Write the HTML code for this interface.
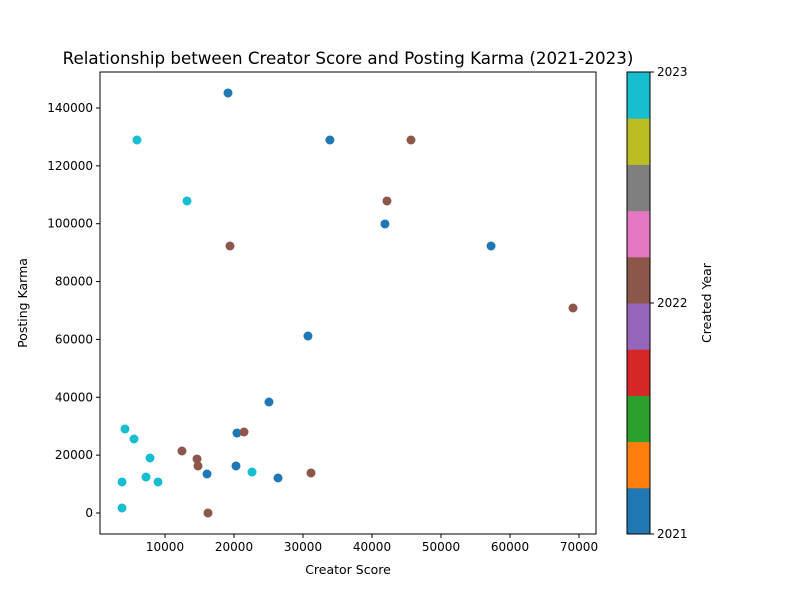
<!DOCTYPE html>
<html><head><meta charset="utf-8"><style>body{margin:0;background:#fff}svg{font-family:"DejaVu Sans","Liberation Sans",sans-serif}</style></head>
<body>
<svg id="c" width="800" height="600" xmlns="http://www.w3.org/2000/svg"></svg>
<script>
const xVals2021=[19130,33900,41880,57250,30720,25070,20430,20290,16090,26380];
const yVals2021=[145180,128930,99900,92290,61180,38370,27650,16250,13480,12100];
const xVals2022=[45650,42170,19420,69130,21450,12460,14640,14780,31160,16230];
const yVals2022=[128930,107850,92290,70860,28000,21430,18670,16250,13830,0];
const xVals2023=[5940,13190,4200,5510,7830,7250,8990,22610,3770,3770];
const yVals2023=[128930,107850,29040,25580,19010,12440,10720,14170,10720,1730];
const xTicks=[10000,20000,30000,40000,50000,60000,70000];
const yTicks=[0,20000,40000,60000,80000,100000,120000,140000];
const cbColors=['#1f77b4','#ff7f0e','#2ca02c','#d62728','#9467bd','#8c564b','#e377c2','#7f7f7f','#bcbd22','#17becf'];
const cbTicks=[2021,2022,2023];
const NS='http://www.w3.org/2000/svg';
const svg=document.getElementById('c');
const L=100,R=596,T=72,B=534;
const sx=v=>96+v*0.0069;
const sy=v=>513-v*0.002893;
function el(t,a,txt){const e=document.createElementNS(NS,t);for(const k in a)e.setAttribute(k,a[k]);if(txt!==undefined)e.textContent=txt;svg.appendChild(e);return e;}
let e;
e=el('text',{x:348,y:64,'text-anchor':'middle','font-size':16.7},'Relationship between Creator Score and Posting Karma (2021-2023)');


e=el('rect',{x:L,y:T,width:R-L,height:B-T,fill:'none',stroke:'#000','stroke-width':1});


xTicks.forEach(v=>{const x=sx(v);el('line',{x1:x,x2:x,y1:B,y2:B+4,stroke:'#000'});
e=el('text',{x:x,y:B+17,'text-anchor':'middle','font-size':12},String(v));

});
yTicks.forEach(v=>{const y=sy(v);el('line',{x1:L-4,x2:L,y1:y,y2:y,stroke:'#000'});
e=el('text',{x:L-7,y:y+4,'text-anchor':'end','font-size':12},String(v));

});
e=el('text',{x:348,y:574,'text-anchor':'middle','font-size':12.5},'Creator Score');


e=el('text',{x:27,y:303,'text-anchor':'middle','font-size':12.5,transform:'rotate(-90 27 303)'},'Posting Karma');


function series(xs,ys,col,name){xs.forEach((x,i)=>{const c=el('circle',{cx:sx(x),cy:sy(ys[i]),r:4.5,fill:col});

});}
series(xVals2021,yVals2021,'#1f77b4','point-2021');
series(xVals2022,yVals2022,'#8c564b','point-2022');
series(xVals2023,yVals2023,'#17becf','point-2023');
const cx=627,cw=23,h=(B-T)/cbColors.length;
cbColors.forEach((c,i)=>{e=el('rect',{x:cx,y:B-(i+1)*h,width:cw,height:h+0.5,fill:c});

});
el('rect',{x:cx,y:T,width:cw,height:B-T,fill:'none',stroke:'#000'});
cbTicks.forEach(v=>{const y=B-(v-2021)/2*(B-T);el('line',{x1:cx+cw,x2:cx+cw+4,y1:y,y2:y,stroke:'#000'});
e=el('text',{x:cx+cw+7,y:y+4,'font-size':12},String(v));

});
e=el('text',{x:711,y:303,'text-anchor':'middle','font-size':12.5,transform:'rotate(-90 711 303)'},'Created Year');


</script>
</body></html>
